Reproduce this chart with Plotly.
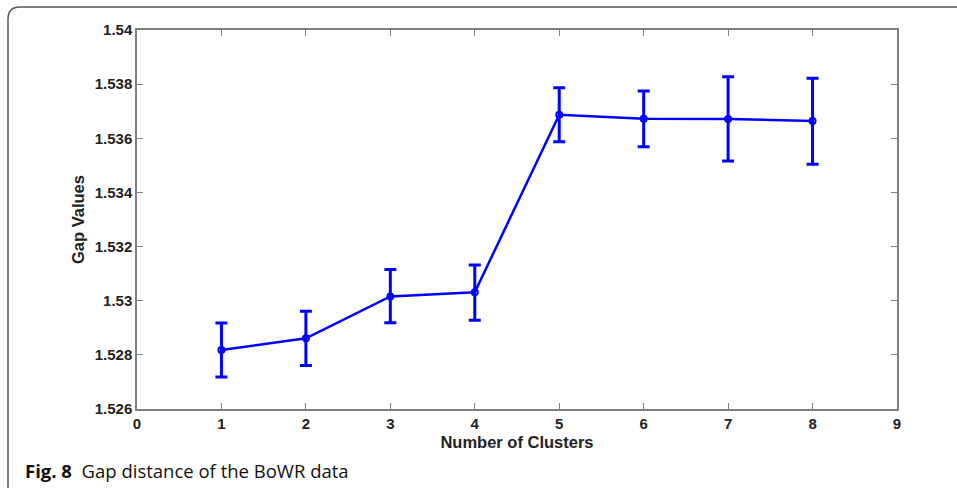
import plotly.graph_objects as go

clusters = [1, 2, 3, 4, 5, 6, 7, 8]
gap_values = [1.52818, 1.52861, 1.53016, 1.53031, 1.53687, 1.53672, 1.53671, 1.53664]
err_plus = [0.00100, 0.00100, 0.00099, 0.00101, 0.00100, 0.00103, 0.00156, 0.00158]
err_minus = [0.00100, 0.00100, 0.00097, 0.00103, 0.00100, 0.00103, 0.00155, 0.00160]

x_tickvals = [0, 1, 2, 3, 4, 5, 6, 7, 8, 9]
x_ticktext = ["0", "1", "2", "3", "4", "5", "6", "7", "8", "9"]
y_tickvals = [1.526, 1.528, 1.530, 1.532, 1.534, 1.536, 1.538, 1.540]
y_ticktext = ["1.526", "1.528", "1.53", "1.532", "1.534", "1.536", "1.538", "1.54"]

W, H = 957, 488
L, R, T, B = 137, 60, 30, 79
pw, ph = W - L - R, H - T - B

def px(x):
    return (x - L) / pw

def py(y):
    return 1 - (y - T) / ph

blue = "#0000FF"
fig = go.Figure()
fig.add_trace(go.Scatter(
    x=clusters, y=gap_values, mode="lines+markers",
    line=dict(color=blue, width=2.5),
    marker=dict(symbol="circle-open", size=6, color=blue, line=dict(width=2, color=blue)),
    error_y=dict(type="data", symmetric=False, array=err_plus, arrayminus=err_minus,
                 color=blue, thickness=3, width=6),
    showlegend=False,
))

tick_font = dict(family="Liberation Sans, Arial", size=15, color="#222222", weight="bold")
title_font = dict(family="Liberation Sans, Arial", size=16.5, color="#222222")
fig.update_xaxes(range=[0, 9], tickvals=x_tickvals, ticktext=x_ticktext,
                 showgrid=False, zeroline=False, showline=True, linecolor="#7f7f7f",
                 linewidth=1.5, mirror="ticks", ticks="inside", ticklen=6,
                 tickcolor="#7f7f7f", tickwidth=1.2, tickfont=tick_font,
                 title=dict(text="<b>Number of Clusters</b>", font=title_font, standoff=6))
fig.update_yaxes(range=[1.526, 1.540], tickvals=y_tickvals, ticktext=y_ticktext,
                 showgrid=False, zeroline=False, showline=True, linecolor="#7f7f7f",
                 linewidth=1.5, mirror="ticks", ticks="inside", ticklen=6,
                 tickcolor="#7f7f7f", tickwidth=1.2, tickfont=tick_font,
                 title=dict(text="<b>Gap Values</b>", font=title_font, standoff=6))

# outer rounded frame (left and top edges)
r = 12
x0, y0 = 8, 7
path = (f"M {px(x0)},{py(H + 5)} L {px(x0)},{py(y0 + r)} "
        f"Q {px(x0)},{py(y0)} {px(x0 + r)},{py(y0)} L {px(W + 5)},{py(y0)}")
fig.add_shape(type="path", path=path, xref="paper", yref="paper",
              line=dict(color="#555555", width=1.5), layer="above")

fig.add_annotation(
    text="<b>Fig. 8</b>  Gap distance of the BoWR data",
    xref="paper", yref="paper", x=px(23), y=py(470), xanchor="left", yanchor="middle",
    showarrow=False, font=dict(family="Open Sans", size=18.5, color="#111111"))

fig.update_layout(width=W, height=H, margin=dict(l=L, r=R, t=T, b=B),
                  plot_bgcolor="white", paper_bgcolor="white")
fig.write_html("out.html", config={"displayModeBar": False},
               post_script="document.body.style.margin='0';")
